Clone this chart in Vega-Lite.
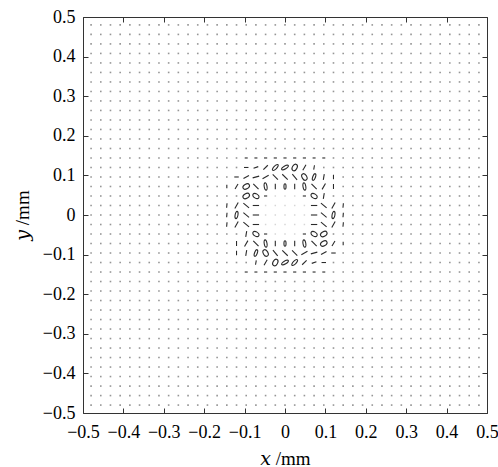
{
"$schema": "https://vega.github.io/schema/vega-lite/v6.json",
"width": 404, "height": 396,
"autosize": {"type": "none"},
"padding": {"left": 83, "top": 17, "right": 11, "bottom": 54},
"background": "white",
"config": {
 "view": {"stroke": "#333", "strokeWidth": 1},
 "axis": {"domain": false, "grid": false, "tickColor": "#333", "tickSize": -5, "tickWidth": 1,
  "labelFont": "Liberation Serif, DejaVu Serif, serif", "labelFontSize": 18, "labelColor": "#000",
  "titleFont": "Liberation Serif, DejaVu Serif, serif", "titleFontSize": 19, "titleFontWeight": "normal", "titleColor": "#000"}
},
"datasets": {"pts": [
{"x":-0.48,"y":0.48},{"x":-0.456,"y":0.48},{"x":-0.432,"y":0.48},{"x":-0.408,"y":0.48},{"x":-0.384,"y":0.48},{"x":-0.36,"y":0.48},{"x":-0.336,"y":0.48},{"x":-0.312,"y":0.48},{"x":-0.288,"y":0.48},{"x":-0.264,"y":0.48},{"x":-0.24,"y":0.48},{"x":-0.216,"y":0.48},{"x":-0.192,"y":0.48},{"x":-0.168,"y":0.48},{"x":-0.144,"y":0.48},{"x":-0.12,"y":0.48},{"x":-0.096,"y":0.48},{"x":-0.072,"y":0.48},{"x":-0.048,"y":0.48},{"x":-0.024,"y":0.48},{"x":0,"y":0.48},{"x":0.024,"y":0.48},{"x":0.048,"y":0.48},{"x":0.072,"y":0.48},{"x":0.096,"y":0.48},{"x":0.12,"y":0.48},{"x":0.144,"y":0.48},{"x":0.168,"y":0.48},{"x":0.192,"y":0.48},{"x":0.216,"y":0.48},{"x":0.24,"y":0.48},{"x":0.264,"y":0.48},{"x":0.288,"y":0.48},{"x":0.312,"y":0.48},{"x":0.336,"y":0.48},{"x":0.36,"y":0.48},{"x":0.384,"y":0.48},{"x":0.408,"y":0.48},{"x":0.432,"y":0.48},{"x":0.456,"y":0.48},{"x":0.48,"y":0.48},
{"x":-0.48,"y":0.456},{"x":-0.456,"y":0.456},{"x":-0.432,"y":0.456},{"x":-0.408,"y":0.456},{"x":-0.384,"y":0.456},{"x":-0.36,"y":0.456},{"x":-0.336,"y":0.456},{"x":-0.312,"y":0.456},{"x":-0.288,"y":0.456},{"x":-0.264,"y":0.456},{"x":-0.24,"y":0.456},{"x":-0.216,"y":0.456},{"x":-0.192,"y":0.456},{"x":-0.168,"y":0.456},{"x":-0.144,"y":0.456},{"x":-0.12,"y":0.456},{"x":-0.096,"y":0.456},{"x":-0.072,"y":0.456},{"x":-0.048,"y":0.456},{"x":-0.024,"y":0.456},{"x":0,"y":0.456},{"x":0.024,"y":0.456},{"x":0.048,"y":0.456},{"x":0.072,"y":0.456},{"x":0.096,"y":0.456},{"x":0.12,"y":0.456},{"x":0.144,"y":0.456},{"x":0.168,"y":0.456},{"x":0.192,"y":0.456},{"x":0.216,"y":0.456},{"x":0.24,"y":0.456},{"x":0.264,"y":0.456},{"x":0.288,"y":0.456},{"x":0.312,"y":0.456},{"x":0.336,"y":0.456},{"x":0.36,"y":0.456},{"x":0.384,"y":0.456},{"x":0.408,"y":0.456},{"x":0.432,"y":0.456},{"x":0.456,"y":0.456},{"x":0.48,"y":0.456},
{"x":-0.48,"y":0.432},{"x":-0.456,"y":0.432},{"x":-0.432,"y":0.432},{"x":-0.408,"y":0.432},{"x":-0.384,"y":0.432},{"x":-0.36,"y":0.432},{"x":-0.336,"y":0.432},{"x":-0.312,"y":0.432},{"x":-0.288,"y":0.432},{"x":-0.264,"y":0.432},{"x":-0.24,"y":0.432},{"x":-0.216,"y":0.432},{"x":-0.192,"y":0.432},{"x":-0.168,"y":0.432},{"x":-0.144,"y":0.432},{"x":-0.12,"y":0.432},{"x":-0.096,"y":0.432},{"x":-0.072,"y":0.432},{"x":-0.048,"y":0.432},{"x":-0.024,"y":0.432},{"x":0,"y":0.432},{"x":0.024,"y":0.432},{"x":0.048,"y":0.432},{"x":0.072,"y":0.432},{"x":0.096,"y":0.432},{"x":0.12,"y":0.432},{"x":0.144,"y":0.432},{"x":0.168,"y":0.432},{"x":0.192,"y":0.432},{"x":0.216,"y":0.432},{"x":0.24,"y":0.432},{"x":0.264,"y":0.432},{"x":0.288,"y":0.432},{"x":0.312,"y":0.432},{"x":0.336,"y":0.432},{"x":0.36,"y":0.432},{"x":0.384,"y":0.432},{"x":0.408,"y":0.432},{"x":0.432,"y":0.432},{"x":0.456,"y":0.432},{"x":0.48,"y":0.432},
{"x":-0.48,"y":0.408},{"x":-0.456,"y":0.408},{"x":-0.432,"y":0.408},{"x":-0.408,"y":0.408},{"x":-0.384,"y":0.408},{"x":-0.36,"y":0.408},{"x":-0.336,"y":0.408},{"x":-0.312,"y":0.408},{"x":-0.288,"y":0.408},{"x":-0.264,"y":0.408},{"x":-0.24,"y":0.408},{"x":-0.216,"y":0.408},{"x":-0.192,"y":0.408},{"x":-0.168,"y":0.408},{"x":-0.144,"y":0.408},{"x":-0.12,"y":0.408},{"x":-0.096,"y":0.408},{"x":-0.072,"y":0.408},{"x":-0.048,"y":0.408},{"x":-0.024,"y":0.408},{"x":0,"y":0.408},{"x":0.024,"y":0.408},{"x":0.048,"y":0.408},{"x":0.072,"y":0.408},{"x":0.096,"y":0.408},{"x":0.12,"y":0.408},{"x":0.144,"y":0.408},{"x":0.168,"y":0.408},{"x":0.192,"y":0.408},{"x":0.216,"y":0.408},{"x":0.24,"y":0.408},{"x":0.264,"y":0.408},{"x":0.288,"y":0.408},{"x":0.312,"y":0.408},{"x":0.336,"y":0.408},{"x":0.36,"y":0.408},{"x":0.384,"y":0.408},{"x":0.408,"y":0.408},{"x":0.432,"y":0.408},{"x":0.456,"y":0.408},{"x":0.48,"y":0.408},
{"x":-0.48,"y":0.384},{"x":-0.456,"y":0.384},{"x":-0.432,"y":0.384},{"x":-0.408,"y":0.384},{"x":-0.384,"y":0.384},{"x":-0.36,"y":0.384},{"x":-0.336,"y":0.384},{"x":-0.312,"y":0.384},{"x":-0.288,"y":0.384},{"x":-0.264,"y":0.384},{"x":-0.24,"y":0.384},{"x":-0.216,"y":0.384},{"x":-0.192,"y":0.384},{"x":-0.168,"y":0.384},{"x":-0.144,"y":0.384},{"x":-0.12,"y":0.384},{"x":-0.096,"y":0.384},{"x":-0.072,"y":0.384},{"x":-0.048,"y":0.384},{"x":-0.024,"y":0.384},{"x":0,"y":0.384},{"x":0.024,"y":0.384},{"x":0.048,"y":0.384},{"x":0.072,"y":0.384},{"x":0.096,"y":0.384},{"x":0.12,"y":0.384},{"x":0.144,"y":0.384},{"x":0.168,"y":0.384},{"x":0.192,"y":0.384},{"x":0.216,"y":0.384},{"x":0.24,"y":0.384},{"x":0.264,"y":0.384},{"x":0.288,"y":0.384},{"x":0.312,"y":0.384},{"x":0.336,"y":0.384},{"x":0.36,"y":0.384},{"x":0.384,"y":0.384},{"x":0.408,"y":0.384},{"x":0.432,"y":0.384},{"x":0.456,"y":0.384},{"x":0.48,"y":0.384},
{"x":-0.48,"y":0.36},{"x":-0.456,"y":0.36},{"x":-0.432,"y":0.36},{"x":-0.408,"y":0.36},{"x":-0.384,"y":0.36},{"x":-0.36,"y":0.36},{"x":-0.336,"y":0.36},{"x":-0.312,"y":0.36},{"x":-0.288,"y":0.36},{"x":-0.264,"y":0.36},{"x":-0.24,"y":0.36},{"x":-0.216,"y":0.36},{"x":-0.192,"y":0.36},{"x":-0.168,"y":0.36},{"x":-0.144,"y":0.36},{"x":-0.12,"y":0.36},{"x":-0.096,"y":0.36},{"x":-0.072,"y":0.36},{"x":-0.048,"y":0.36},{"x":-0.024,"y":0.36},{"x":0,"y":0.36},{"x":0.024,"y":0.36},{"x":0.048,"y":0.36},{"x":0.072,"y":0.36},{"x":0.096,"y":0.36},{"x":0.12,"y":0.36},{"x":0.144,"y":0.36},{"x":0.168,"y":0.36},{"x":0.192,"y":0.36},{"x":0.216,"y":0.36},{"x":0.24,"y":0.36},{"x":0.264,"y":0.36},{"x":0.288,"y":0.36},{"x":0.312,"y":0.36},{"x":0.336,"y":0.36},{"x":0.36,"y":0.36},{"x":0.384,"y":0.36},{"x":0.408,"y":0.36},{"x":0.432,"y":0.36},{"x":0.456,"y":0.36},{"x":0.48,"y":0.36},
{"x":-0.48,"y":0.336},{"x":-0.456,"y":0.336},{"x":-0.432,"y":0.336},{"x":-0.408,"y":0.336},{"x":-0.384,"y":0.336},{"x":-0.36,"y":0.336},{"x":-0.336,"y":0.336},{"x":-0.312,"y":0.336},{"x":-0.288,"y":0.336},{"x":-0.264,"y":0.336},{"x":-0.24,"y":0.336},{"x":-0.216,"y":0.336},{"x":-0.192,"y":0.336},{"x":-0.168,"y":0.336},{"x":-0.144,"y":0.336},{"x":-0.12,"y":0.336},{"x":-0.096,"y":0.336},{"x":-0.072,"y":0.336},{"x":-0.048,"y":0.336},{"x":-0.024,"y":0.336},{"x":0,"y":0.336},{"x":0.024,"y":0.336},{"x":0.048,"y":0.336},{"x":0.072,"y":0.336},{"x":0.096,"y":0.336},{"x":0.12,"y":0.336},{"x":0.144,"y":0.336},{"x":0.168,"y":0.336},{"x":0.192,"y":0.336},{"x":0.216,"y":0.336},{"x":0.24,"y":0.336},{"x":0.264,"y":0.336},{"x":0.288,"y":0.336},{"x":0.312,"y":0.336},{"x":0.336,"y":0.336},{"x":0.36,"y":0.336},{"x":0.384,"y":0.336},{"x":0.408,"y":0.336},{"x":0.432,"y":0.336},{"x":0.456,"y":0.336},{"x":0.48,"y":0.336},
{"x":-0.48,"y":0.312},{"x":-0.456,"y":0.312},{"x":-0.432,"y":0.312},{"x":-0.408,"y":0.312},{"x":-0.384,"y":0.312},{"x":-0.36,"y":0.312},{"x":-0.336,"y":0.312},{"x":-0.312,"y":0.312},{"x":-0.288,"y":0.312},{"x":-0.264,"y":0.312},{"x":-0.24,"y":0.312},{"x":-0.216,"y":0.312},{"x":-0.192,"y":0.312},{"x":-0.168,"y":0.312},{"x":-0.144,"y":0.312},{"x":-0.12,"y":0.312},{"x":-0.096,"y":0.312},{"x":-0.072,"y":0.312},{"x":-0.048,"y":0.312},{"x":-0.024,"y":0.312},{"x":0,"y":0.312},{"x":0.024,"y":0.312},{"x":0.048,"y":0.312},{"x":0.072,"y":0.312},{"x":0.096,"y":0.312},{"x":0.12,"y":0.312},{"x":0.144,"y":0.312},{"x":0.168,"y":0.312},{"x":0.192,"y":0.312},{"x":0.216,"y":0.312},{"x":0.24,"y":0.312},{"x":0.264,"y":0.312},{"x":0.288,"y":0.312},{"x":0.312,"y":0.312},{"x":0.336,"y":0.312},{"x":0.36,"y":0.312},{"x":0.384,"y":0.312},{"x":0.408,"y":0.312},{"x":0.432,"y":0.312},{"x":0.456,"y":0.312},{"x":0.48,"y":0.312},
{"x":-0.48,"y":0.288},{"x":-0.456,"y":0.288},{"x":-0.432,"y":0.288},{"x":-0.408,"y":0.288},{"x":-0.384,"y":0.288},{"x":-0.36,"y":0.288},{"x":-0.336,"y":0.288},{"x":-0.312,"y":0.288},{"x":-0.288,"y":0.288},{"x":-0.264,"y":0.288},{"x":-0.24,"y":0.288},{"x":-0.216,"y":0.288},{"x":-0.192,"y":0.288},{"x":-0.168,"y":0.288},{"x":-0.144,"y":0.288},{"x":-0.12,"y":0.288},{"x":-0.096,"y":0.288},{"x":-0.072,"y":0.288},{"x":-0.048,"y":0.288},{"x":-0.024,"y":0.288},{"x":0,"y":0.288},{"x":0.024,"y":0.288},{"x":0.048,"y":0.288},{"x":0.072,"y":0.288},{"x":0.096,"y":0.288},{"x":0.12,"y":0.288},{"x":0.144,"y":0.288},{"x":0.168,"y":0.288},{"x":0.192,"y":0.288},{"x":0.216,"y":0.288},{"x":0.24,"y":0.288},{"x":0.264,"y":0.288},{"x":0.288,"y":0.288},{"x":0.312,"y":0.288},{"x":0.336,"y":0.288},{"x":0.36,"y":0.288},{"x":0.384,"y":0.288},{"x":0.408,"y":0.288},{"x":0.432,"y":0.288},{"x":0.456,"y":0.288},{"x":0.48,"y":0.288},
{"x":-0.48,"y":0.264},{"x":-0.456,"y":0.264},{"x":-0.432,"y":0.264},{"x":-0.408,"y":0.264},{"x":-0.384,"y":0.264},{"x":-0.36,"y":0.264},{"x":-0.336,"y":0.264},{"x":-0.312,"y":0.264},{"x":-0.288,"y":0.264},{"x":-0.264,"y":0.264},{"x":-0.24,"y":0.264},{"x":-0.216,"y":0.264},{"x":-0.192,"y":0.264},{"x":-0.168,"y":0.264},{"x":-0.144,"y":0.264},{"x":-0.12,"y":0.264},{"x":-0.096,"y":0.264},{"x":-0.072,"y":0.264},{"x":-0.048,"y":0.264},{"x":-0.024,"y":0.264},{"x":0,"y":0.264},{"x":0.024,"y":0.264},{"x":0.048,"y":0.264},{"x":0.072,"y":0.264},{"x":0.096,"y":0.264},{"x":0.12,"y":0.264},{"x":0.144,"y":0.264},{"x":0.168,"y":0.264},{"x":0.192,"y":0.264},{"x":0.216,"y":0.264},{"x":0.24,"y":0.264},{"x":0.264,"y":0.264},{"x":0.288,"y":0.264},{"x":0.312,"y":0.264},{"x":0.336,"y":0.264},{"x":0.36,"y":0.264},{"x":0.384,"y":0.264},{"x":0.408,"y":0.264},{"x":0.432,"y":0.264},{"x":0.456,"y":0.264},{"x":0.48,"y":0.264},
{"x":-0.48,"y":0.24},{"x":-0.456,"y":0.24},{"x":-0.432,"y":0.24},{"x":-0.408,"y":0.24},{"x":-0.384,"y":0.24},{"x":-0.36,"y":0.24},{"x":-0.336,"y":0.24},{"x":-0.312,"y":0.24},{"x":-0.288,"y":0.24},{"x":-0.264,"y":0.24},{"x":-0.24,"y":0.24},{"x":-0.216,"y":0.24},{"x":-0.192,"y":0.24},{"x":-0.168,"y":0.24},{"x":-0.144,"y":0.24},{"x":-0.12,"y":0.24},{"x":-0.096,"y":0.24},{"x":-0.072,"y":0.24},{"x":-0.048,"y":0.24},{"x":-0.024,"y":0.24},{"x":0,"y":0.24},{"x":0.024,"y":0.24},{"x":0.048,"y":0.24},{"x":0.072,"y":0.24},{"x":0.096,"y":0.24},{"x":0.12,"y":0.24},{"x":0.144,"y":0.24},{"x":0.168,"y":0.24},{"x":0.192,"y":0.24},{"x":0.216,"y":0.24},{"x":0.24,"y":0.24},{"x":0.264,"y":0.24},{"x":0.288,"y":0.24},{"x":0.312,"y":0.24},{"x":0.336,"y":0.24},{"x":0.36,"y":0.24},{"x":0.384,"y":0.24},{"x":0.408,"y":0.24},{"x":0.432,"y":0.24},{"x":0.456,"y":0.24},{"x":0.48,"y":0.24},
{"x":-0.48,"y":0.216},{"x":-0.456,"y":0.216},{"x":-0.432,"y":0.216},{"x":-0.408,"y":0.216},{"x":-0.384,"y":0.216},{"x":-0.36,"y":0.216},{"x":-0.336,"y":0.216},{"x":-0.312,"y":0.216},{"x":-0.288,"y":0.216},{"x":-0.264,"y":0.216},{"x":-0.24,"y":0.216},{"x":-0.216,"y":0.216},{"x":-0.192,"y":0.216},{"x":-0.168,"y":0.216},{"x":-0.144,"y":0.216},{"x":-0.12,"y":0.216},{"x":-0.096,"y":0.216},{"x":-0.072,"y":0.216},{"x":-0.048,"y":0.216},{"x":-0.024,"y":0.216},{"x":0,"y":0.216},{"x":0.024,"y":0.216},{"x":0.048,"y":0.216},{"x":0.072,"y":0.216},{"x":0.096,"y":0.216},{"x":0.12,"y":0.216},{"x":0.144,"y":0.216},{"x":0.168,"y":0.216},{"x":0.192,"y":0.216},{"x":0.216,"y":0.216},{"x":0.24,"y":0.216},{"x":0.264,"y":0.216},{"x":0.288,"y":0.216},{"x":0.312,"y":0.216},{"x":0.336,"y":0.216},{"x":0.36,"y":0.216},{"x":0.384,"y":0.216},{"x":0.408,"y":0.216},{"x":0.432,"y":0.216},{"x":0.456,"y":0.216},{"x":0.48,"y":0.216},
{"x":-0.48,"y":0.192},{"x":-0.456,"y":0.192},{"x":-0.432,"y":0.192},{"x":-0.408,"y":0.192},{"x":-0.384,"y":0.192},{"x":-0.36,"y":0.192},{"x":-0.336,"y":0.192},{"x":-0.312,"y":0.192},{"x":-0.288,"y":0.192},{"x":-0.264,"y":0.192},{"x":-0.24,"y":0.192},{"x":-0.216,"y":0.192},{"x":-0.192,"y":0.192},{"x":-0.168,"y":0.192},{"x":-0.144,"y":0.192},{"x":-0.12,"y":0.192},{"x":-0.096,"y":0.192},{"x":-0.072,"y":0.192},{"x":-0.048,"y":0.192},{"x":-0.024,"y":0.192},{"x":0,"y":0.192},{"x":0.024,"y":0.192},{"x":0.048,"y":0.192},{"x":0.072,"y":0.192},{"x":0.096,"y":0.192},{"x":0.12,"y":0.192},{"x":0.144,"y":0.192},{"x":0.168,"y":0.192},{"x":0.192,"y":0.192},{"x":0.216,"y":0.192},{"x":0.24,"y":0.192},{"x":0.264,"y":0.192},{"x":0.288,"y":0.192},{"x":0.312,"y":0.192},{"x":0.336,"y":0.192},{"x":0.36,"y":0.192},{"x":0.384,"y":0.192},{"x":0.408,"y":0.192},{"x":0.432,"y":0.192},{"x":0.456,"y":0.192},{"x":0.48,"y":0.192},
{"x":-0.48,"y":0.168},{"x":-0.456,"y":0.168},{"x":-0.432,"y":0.168},{"x":-0.408,"y":0.168},{"x":-0.384,"y":0.168},{"x":-0.36,"y":0.168},{"x":-0.336,"y":0.168},{"x":-0.312,"y":0.168},{"x":-0.288,"y":0.168},{"x":-0.264,"y":0.168},{"x":-0.24,"y":0.168},{"x":-0.216,"y":0.168},{"x":-0.192,"y":0.168},{"x":-0.168,"y":0.168},{"x":-0.144,"y":0.168},{"x":-0.12,"y":0.168},{"x":-0.096,"y":0.168},{"x":-0.072,"y":0.168},{"x":-0.048,"y":0.168},{"x":-0.024,"y":0.168},{"x":0,"y":0.168},{"x":0.024,"y":0.168},{"x":0.048,"y":0.168},{"x":0.072,"y":0.168},{"x":0.096,"y":0.168},{"x":0.12,"y":0.168},{"x":0.144,"y":0.168},{"x":0.168,"y":0.168},{"x":0.192,"y":0.168},{"x":0.216,"y":0.168},{"x":0.24,"y":0.168},{"x":0.264,"y":0.168},{"x":0.288,"y":0.168},{"x":0.312,"y":0.168},{"x":0.336,"y":0.168},{"x":0.36,"y":0.168},{"x":0.384,"y":0.168},{"x":0.408,"y":0.168},{"x":0.432,"y":0.168},{"x":0.456,"y":0.168},{"x":0.48,"y":0.168},
{"x":-0.48,"y":0.144},{"x":-0.456,"y":0.144},{"x":-0.432,"y":0.144},{"x":-0.408,"y":0.144},{"x":-0.384,"y":0.144},{"x":-0.36,"y":0.144},{"x":-0.336,"y":0.144},{"x":-0.312,"y":0.144},{"x":-0.288,"y":0.144},{"x":-0.264,"y":0.144},{"x":-0.24,"y":0.144},{"x":-0.216,"y":0.144},{"x":-0.192,"y":0.144},{"x":-0.168,"y":0.144},{"x":-0.144,"y":0.144},{"x":-0.12,"y":0.144},{"x":-0.096,"y":0.144,"k":"l","a":0,"s":9},{"x":-0.072,"y":0.144,"k":"l","a":0,"s":9},{"x":-0.048,"y":0.144,"k":"l","a":0,"s":10},{"x":-0.024,"y":0.144,"k":"l","a":0,"s":10},{"x":0,"y":0.144,"k":"l","a":0,"s":10},{"x":0.024,"y":0.144,"k":"l","a":0,"s":10},{"x":0.048,"y":0.144,"k":"l","a":0,"s":10},{"x":0.072,"y":0.144,"k":"l","a":0,"s":9},{"x":0.096,"y":0.144,"k":"l","a":0,"s":9},{"x":0.12,"y":0.144},{"x":0.144,"y":0.144},{"x":0.168,"y":0.144},{"x":0.192,"y":0.144},{"x":0.216,"y":0.144},{"x":0.24,"y":0.144},{"x":0.264,"y":0.144},{"x":0.288,"y":0.144},{"x":0.312,"y":0.144},{"x":0.336,"y":0.144},{"x":0.36,"y":0.144},{"x":0.384,"y":0.144},{"x":0.408,"y":0.144},{"x":0.432,"y":0.144},{"x":0.456,"y":0.144},{"x":0.48,"y":0.144},
{"x":-0.48,"y":0.12},{"x":-0.456,"y":0.12},{"x":-0.432,"y":0.12},{"x":-0.408,"y":0.12},{"x":-0.384,"y":0.12},{"x":-0.36,"y":0.12},{"x":-0.336,"y":0.12},{"x":-0.312,"y":0.12},{"x":-0.288,"y":0.12},{"x":-0.264,"y":0.12},{"x":-0.24,"y":0.12},{"x":-0.216,"y":0.12},{"x":-0.192,"y":0.12},{"x":-0.168,"y":0.12},{"x":-0.144,"y":0.12},{"x":-0.12,"y":0.12},{"x":-0.096,"y":0.12,"k":"l","a":0,"s":20},{"x":-0.072,"y":0.12,"k":"l","a":160,"s":25},{"x":-0.048,"y":0.12,"k":"l","a":135,"s":40},{"x":-0.024,"y":0.12,"k":"e","a":135,"s":60},{"x":0,"y":0.12,"k":"e","a":150,"s":60},{"x":0.024,"y":0.12,"k":"o","a":120,"s":50},{"x":0.048,"y":0.12,"k":"l","a":120,"s":40},{"x":0.072,"y":0.12,"k":"l","a":100,"s":20},{"x":0.096,"y":0.12},{"x":0.12,"y":0.12},{"x":0.144,"y":0.12},{"x":0.168,"y":0.12},{"x":0.192,"y":0.12},{"x":0.216,"y":0.12},{"x":0.24,"y":0.12},{"x":0.264,"y":0.12},{"x":0.288,"y":0.12},{"x":0.312,"y":0.12},{"x":0.336,"y":0.12},{"x":0.36,"y":0.12},{"x":0.384,"y":0.12},{"x":0.408,"y":0.12},{"x":0.432,"y":0.12},{"x":0.456,"y":0.12},{"x":0.48,"y":0.12},
{"x":-0.48,"y":0.096},{"x":-0.456,"y":0.096},{"x":-0.432,"y":0.096},{"x":-0.408,"y":0.096},{"x":-0.384,"y":0.096},{"x":-0.36,"y":0.096},{"x":-0.336,"y":0.096},{"x":-0.312,"y":0.096},{"x":-0.288,"y":0.096},{"x":-0.264,"y":0.096},{"x":-0.24,"y":0.096},{"x":-0.216,"y":0.096},{"x":-0.192,"y":0.096},{"x":-0.168,"y":0.096},{"x":-0.144,"y":0.096},{"x":-0.12,"y":0.096,"k":"l","a":0,"s":20},{"x":-0.096,"y":0.096,"k":"l","a":150,"s":40},{"x":-0.072,"y":0.096,"k":"l","a":165,"s":45},{"x":-0.048,"y":0.096,"k":"l","a":150,"s":50},{"x":-0.024,"y":0.096,"k":"l","a":45,"s":55},{"x":0,"y":0.096,"k":"l","a":45,"s":60},{"x":0.024,"y":0.096,"k":"l","a":50,"s":55},{"x":0.048,"y":0.096,"k":"o","a":60,"s":50},{"x":0.072,"y":0.096,"k":"e","a":110,"s":50},{"x":0.096,"y":0.096,"k":"l","a":100,"s":35},{"x":0.12,"y":0.096,"k":"l","a":90,"s":20},{"x":0.144,"y":0.096},{"x":0.168,"y":0.096},{"x":0.192,"y":0.096},{"x":0.216,"y":0.096},{"x":0.24,"y":0.096},{"x":0.264,"y":0.096},{"x":0.288,"y":0.096},{"x":0.312,"y":0.096},{"x":0.336,"y":0.096},{"x":0.36,"y":0.096},{"x":0.384,"y":0.096},{"x":0.408,"y":0.096},{"x":0.432,"y":0.096},{"x":0.456,"y":0.096},{"x":0.48,"y":0.096},
{"x":-0.48,"y":0.072},{"x":-0.456,"y":0.072},{"x":-0.432,"y":0.072},{"x":-0.408,"y":0.072},{"x":-0.384,"y":0.072},{"x":-0.36,"y":0.072},{"x":-0.336,"y":0.072},{"x":-0.312,"y":0.072},{"x":-0.288,"y":0.072},{"x":-0.264,"y":0.072},{"x":-0.24,"y":0.072},{"x":-0.216,"y":0.072},{"x":-0.192,"y":0.072},{"x":-0.168,"y":0.072},{"x":-0.144,"y":0.072,"k":"l","a":90,"s":12},{"x":-0.12,"y":0.072,"k":"l","a":120,"s":35},{"x":-0.096,"y":0.072,"k":"o","a":150,"s":50},{"x":-0.072,"y":0.072,"k":"l","a":45,"s":55},{"x":-0.048,"y":0.072,"k":"e","a":80,"s":55},{"x":-0.024,"y":0.072,"k":"l","a":90,"s":30},{"x":0,"y":0.072,"k":"e","a":90,"s":30},{"x":0.024,"y":0.072,"k":"l","a":90,"s":30},{"x":0.048,"y":0.072,"k":"e","a":80,"s":55},{"x":0.072,"y":0.072,"k":"l","a":45,"s":55},{"x":0.096,"y":0.072,"k":"l","a":120,"s":45},{"x":0.12,"y":0.072,"k":"l","a":90,"s":25},{"x":0.144,"y":0.072},{"x":0.168,"y":0.072},{"x":0.192,"y":0.072},{"x":0.216,"y":0.072},{"x":0.24,"y":0.072},{"x":0.264,"y":0.072},{"x":0.288,"y":0.072},{"x":0.312,"y":0.072},{"x":0.336,"y":0.072},{"x":0.36,"y":0.072},{"x":0.384,"y":0.072},{"x":0.408,"y":0.072},{"x":0.432,"y":0.072},{"x":0.456,"y":0.072},{"x":0.48,"y":0.072},
{"x":-0.48,"y":0.048},{"x":-0.456,"y":0.048},{"x":-0.432,"y":0.048},{"x":-0.408,"y":0.048},{"x":-0.384,"y":0.048},{"x":-0.36,"y":0.048},{"x":-0.336,"y":0.048},{"x":-0.312,"y":0.048},{"x":-0.288,"y":0.048},{"x":-0.264,"y":0.048},{"x":-0.24,"y":0.048},{"x":-0.216,"y":0.048},{"x":-0.192,"y":0.048},{"x":-0.168,"y":0.048},{"x":-0.144,"y":0.048},{"x":-0.12,"y":0.048},{"x":-0.096,"y":0.048,"k":"o","a":150,"s":50},{"x":-0.072,"y":0.048,"k":"o","a":30,"s":45},{"x":-0.048,"y":0.048,"k":"l","a":0,"s":10},{"x":-0.024,"y":0.048,"k":"f"},{"x":0,"y":0.048,"k":"f"},{"x":0.024,"y":0.048,"k":"f"},{"x":0.048,"y":0.048,"k":"l","a":0,"s":10},{"x":0.072,"y":0.048,"k":"o","a":30,"s":45},{"x":0.096,"y":0.048,"k":"l","a":100,"s":35},{"x":0.12,"y":0.048},{"x":0.144,"y":0.048},{"x":0.168,"y":0.048},{"x":0.192,"y":0.048},{"x":0.216,"y":0.048},{"x":0.24,"y":0.048},{"x":0.264,"y":0.048},{"x":0.288,"y":0.048},{"x":0.312,"y":0.048},{"x":0.336,"y":0.048},{"x":0.36,"y":0.048},{"x":0.384,"y":0.048},{"x":0.408,"y":0.048},{"x":0.432,"y":0.048},{"x":0.456,"y":0.048},{"x":0.48,"y":0.048},
{"x":-0.48,"y":0.024},{"x":-0.456,"y":0.024},{"x":-0.432,"y":0.024},{"x":-0.408,"y":0.024},{"x":-0.384,"y":0.024},{"x":-0.36,"y":0.024},{"x":-0.336,"y":0.024},{"x":-0.312,"y":0.024},{"x":-0.288,"y":0.024},{"x":-0.264,"y":0.024},{"x":-0.24,"y":0.024},{"x":-0.216,"y":0.024},{"x":-0.192,"y":0.024},{"x":-0.168,"y":0.024},{"x":-0.144,"y":0.024,"k":"l","a":95,"s":20},{"x":-0.12,"y":0.024,"k":"l","a":120,"s":45},{"x":-0.096,"y":0.024,"k":"l","a":40,"s":55},{"x":-0.072,"y":0.024,"k":"l","a":0,"s":40},{"x":-0.048,"y":0.024,"k":"f"},{"x":-0.024,"y":0.024,"k":"f"},{"x":0,"y":0.024,"k":"f"},{"x":0.024,"y":0.024,"k":"f"},{"x":0.048,"y":0.024,"k":"f"},{"x":0.072,"y":0.024,"k":"l","a":0,"s":40},{"x":0.096,"y":0.024,"k":"l","a":40,"s":55},{"x":0.12,"y":0.024,"k":"l","a":120,"s":45},{"x":0.144,"y":0.024,"k":"l","a":95,"s":20},{"x":0.168,"y":0.024},{"x":0.192,"y":0.024},{"x":0.216,"y":0.024},{"x":0.24,"y":0.024},{"x":0.264,"y":0.024},{"x":0.288,"y":0.024},{"x":0.312,"y":0.024},{"x":0.336,"y":0.024},{"x":0.36,"y":0.024},{"x":0.384,"y":0.024},{"x":0.408,"y":0.024},{"x":0.432,"y":0.024},{"x":0.456,"y":0.024},{"x":0.48,"y":0.024},
{"x":-0.48,"y":0},{"x":-0.456,"y":0},{"x":-0.432,"y":0},{"x":-0.408,"y":0},{"x":-0.384,"y":0},{"x":-0.36,"y":0},{"x":-0.336,"y":0},{"x":-0.312,"y":0},{"x":-0.288,"y":0},{"x":-0.264,"y":0},{"x":-0.24,"y":0},{"x":-0.216,"y":0},{"x":-0.192,"y":0},{"x":-0.168,"y":0},{"x":-0.144,"y":0,"k":"l","a":95,"s":20},{"x":-0.12,"y":0,"k":"e","a":100,"s":55},{"x":-0.096,"y":0,"k":"l","a":40,"s":55},{"x":-0.072,"y":0,"k":"l","a":0,"s":40},{"x":-0.048,"y":0,"k":"f"},{"x":-0.024,"y":0,"k":"f"},{"x":0,"y":0,"k":"f"},{"x":0.024,"y":0,"k":"f"},{"x":0.048,"y":0,"k":"f"},{"x":0.072,"y":0,"k":"l","a":0,"s":40},{"x":0.096,"y":0,"k":"l","a":40,"s":55},{"x":0.12,"y":0,"k":"e","a":100,"s":55},{"x":0.144,"y":0,"k":"l","a":95,"s":20},{"x":0.168,"y":0},{"x":0.192,"y":0},{"x":0.216,"y":0},{"x":0.24,"y":0},{"x":0.264,"y":0},{"x":0.288,"y":0},{"x":0.312,"y":0},{"x":0.336,"y":0},{"x":0.36,"y":0},{"x":0.384,"y":0},{"x":0.408,"y":0},{"x":0.432,"y":0},{"x":0.456,"y":0},{"x":0.48,"y":0},
{"x":-0.48,"y":-0.024},{"x":-0.456,"y":-0.024},{"x":-0.432,"y":-0.024},{"x":-0.408,"y":-0.024},{"x":-0.384,"y":-0.024},{"x":-0.36,"y":-0.024},{"x":-0.336,"y":-0.024},{"x":-0.312,"y":-0.024},{"x":-0.288,"y":-0.024},{"x":-0.264,"y":-0.024},{"x":-0.24,"y":-0.024},{"x":-0.216,"y":-0.024},{"x":-0.192,"y":-0.024},{"x":-0.168,"y":-0.024},{"x":-0.144,"y":-0.024,"k":"l","a":95,"s":20},{"x":-0.12,"y":-0.024,"k":"l","a":120,"s":45},{"x":-0.096,"y":-0.024,"k":"l","a":40,"s":55},{"x":-0.072,"y":-0.024,"k":"l","a":0,"s":40},{"x":-0.048,"y":-0.024,"k":"f"},{"x":-0.024,"y":-0.024,"k":"f"},{"x":0,"y":-0.024,"k":"f"},{"x":0.024,"y":-0.024,"k":"f"},{"x":0.048,"y":-0.024,"k":"f"},{"x":0.072,"y":-0.024,"k":"l","a":0,"s":40},{"x":0.096,"y":-0.024,"k":"l","a":40,"s":55},{"x":0.12,"y":-0.024,"k":"l","a":120,"s":45},{"x":0.144,"y":-0.024,"k":"l","a":95,"s":20},{"x":0.168,"y":-0.024},{"x":0.192,"y":-0.024},{"x":0.216,"y":-0.024},{"x":0.24,"y":-0.024},{"x":0.264,"y":-0.024},{"x":0.288,"y":-0.024},{"x":0.312,"y":-0.024},{"x":0.336,"y":-0.024},{"x":0.36,"y":-0.024},{"x":0.384,"y":-0.024},{"x":0.408,"y":-0.024},{"x":0.432,"y":-0.024},{"x":0.456,"y":-0.024},{"x":0.48,"y":-0.024},
{"x":-0.48,"y":-0.048},{"x":-0.456,"y":-0.048},{"x":-0.432,"y":-0.048},{"x":-0.408,"y":-0.048},{"x":-0.384,"y":-0.048},{"x":-0.36,"y":-0.048},{"x":-0.336,"y":-0.048},{"x":-0.312,"y":-0.048},{"x":-0.288,"y":-0.048},{"x":-0.264,"y":-0.048},{"x":-0.24,"y":-0.048},{"x":-0.216,"y":-0.048},{"x":-0.192,"y":-0.048},{"x":-0.168,"y":-0.048},{"x":-0.144,"y":-0.048},{"x":-0.12,"y":-0.048},{"x":-0.096,"y":-0.048,"k":"l","a":100,"s":35},{"x":-0.072,"y":-0.048,"k":"o","a":30,"s":45},{"x":-0.048,"y":-0.048,"k":"l","a":0,"s":10},{"x":-0.024,"y":-0.048,"k":"f"},{"x":0,"y":-0.048,"k":"f"},{"x":0.024,"y":-0.048,"k":"f"},{"x":0.048,"y":-0.048,"k":"l","a":0,"s":10},{"x":0.072,"y":-0.048,"k":"o","a":30,"s":45},{"x":0.096,"y":-0.048,"k":"o","a":150,"s":50},{"x":0.12,"y":-0.048},{"x":0.144,"y":-0.048},{"x":0.168,"y":-0.048},{"x":0.192,"y":-0.048},{"x":0.216,"y":-0.048},{"x":0.24,"y":-0.048},{"x":0.264,"y":-0.048},{"x":0.288,"y":-0.048},{"x":0.312,"y":-0.048},{"x":0.336,"y":-0.048},{"x":0.36,"y":-0.048},{"x":0.384,"y":-0.048},{"x":0.408,"y":-0.048},{"x":0.432,"y":-0.048},{"x":0.456,"y":-0.048},{"x":0.48,"y":-0.048},
{"x":-0.48,"y":-0.072},{"x":-0.456,"y":-0.072},{"x":-0.432,"y":-0.072},{"x":-0.408,"y":-0.072},{"x":-0.384,"y":-0.072},{"x":-0.36,"y":-0.072},{"x":-0.336,"y":-0.072},{"x":-0.312,"y":-0.072},{"x":-0.288,"y":-0.072},{"x":-0.264,"y":-0.072},{"x":-0.24,"y":-0.072},{"x":-0.216,"y":-0.072},{"x":-0.192,"y":-0.072},{"x":-0.168,"y":-0.072},{"x":-0.144,"y":-0.072},{"x":-0.12,"y":-0.072,"k":"l","a":90,"s":25},{"x":-0.096,"y":-0.072,"k":"l","a":120,"s":45},{"x":-0.072,"y":-0.072,"k":"l","a":45,"s":55},{"x":-0.048,"y":-0.072,"k":"e","a":80,"s":55},{"x":-0.024,"y":-0.072,"k":"l","a":90,"s":30},{"x":0,"y":-0.072,"k":"e","a":90,"s":30},{"x":0.024,"y":-0.072,"k":"l","a":90,"s":30},{"x":0.048,"y":-0.072,"k":"e","a":80,"s":55},{"x":0.072,"y":-0.072,"k":"l","a":45,"s":55},{"x":0.096,"y":-0.072,"k":"o","a":150,"s":50},{"x":0.12,"y":-0.072,"k":"l","a":120,"s":35},{"x":0.144,"y":-0.072,"k":"l","a":90,"s":12},{"x":0.168,"y":-0.072},{"x":0.192,"y":-0.072},{"x":0.216,"y":-0.072},{"x":0.24,"y":-0.072},{"x":0.264,"y":-0.072},{"x":0.288,"y":-0.072},{"x":0.312,"y":-0.072},{"x":0.336,"y":-0.072},{"x":0.36,"y":-0.072},{"x":0.384,"y":-0.072},{"x":0.408,"y":-0.072},{"x":0.432,"y":-0.072},{"x":0.456,"y":-0.072},{"x":0.48,"y":-0.072},
{"x":-0.48,"y":-0.096},{"x":-0.456,"y":-0.096},{"x":-0.432,"y":-0.096},{"x":-0.408,"y":-0.096},{"x":-0.384,"y":-0.096},{"x":-0.36,"y":-0.096},{"x":-0.336,"y":-0.096},{"x":-0.312,"y":-0.096},{"x":-0.288,"y":-0.096},{"x":-0.264,"y":-0.096},{"x":-0.24,"y":-0.096},{"x":-0.216,"y":-0.096},{"x":-0.192,"y":-0.096},{"x":-0.168,"y":-0.096},{"x":-0.144,"y":-0.096},{"x":-0.12,"y":-0.096,"k":"l","a":90,"s":20},{"x":-0.096,"y":-0.096,"k":"l","a":100,"s":35},{"x":-0.072,"y":-0.096,"k":"e","a":110,"s":50},{"x":-0.048,"y":-0.096,"k":"o","a":60,"s":50},{"x":-0.024,"y":-0.096,"k":"l","a":50,"s":55},{"x":0,"y":-0.096,"k":"l","a":45,"s":60},{"x":0.024,"y":-0.096,"k":"l","a":45,"s":55},{"x":0.048,"y":-0.096,"k":"l","a":150,"s":50},{"x":0.072,"y":-0.096,"k":"l","a":165,"s":45},{"x":0.096,"y":-0.096,"k":"l","a":150,"s":40},{"x":0.12,"y":-0.096,"k":"l","a":0,"s":20},{"x":0.144,"y":-0.096},{"x":0.168,"y":-0.096},{"x":0.192,"y":-0.096},{"x":0.216,"y":-0.096},{"x":0.24,"y":-0.096},{"x":0.264,"y":-0.096},{"x":0.288,"y":-0.096},{"x":0.312,"y":-0.096},{"x":0.336,"y":-0.096},{"x":0.36,"y":-0.096},{"x":0.384,"y":-0.096},{"x":0.408,"y":-0.096},{"x":0.432,"y":-0.096},{"x":0.456,"y":-0.096},{"x":0.48,"y":-0.096},
{"x":-0.48,"y":-0.12},{"x":-0.456,"y":-0.12},{"x":-0.432,"y":-0.12},{"x":-0.408,"y":-0.12},{"x":-0.384,"y":-0.12},{"x":-0.36,"y":-0.12},{"x":-0.336,"y":-0.12},{"x":-0.312,"y":-0.12},{"x":-0.288,"y":-0.12},{"x":-0.264,"y":-0.12},{"x":-0.24,"y":-0.12},{"x":-0.216,"y":-0.12},{"x":-0.192,"y":-0.12},{"x":-0.168,"y":-0.12},{"x":-0.144,"y":-0.12},{"x":-0.12,"y":-0.12},{"x":-0.096,"y":-0.12},{"x":-0.072,"y":-0.12,"k":"l","a":100,"s":20},{"x":-0.048,"y":-0.12,"k":"l","a":120,"s":40},{"x":-0.024,"y":-0.12,"k":"o","a":120,"s":50},{"x":0,"y":-0.12,"k":"e","a":150,"s":60},{"x":0.024,"y":-0.12,"k":"e","a":135,"s":60},{"x":0.048,"y":-0.12,"k":"l","a":135,"s":40},{"x":0.072,"y":-0.12,"k":"l","a":160,"s":25},{"x":0.096,"y":-0.12,"k":"l","a":0,"s":20},{"x":0.12,"y":-0.12},{"x":0.144,"y":-0.12},{"x":0.168,"y":-0.12},{"x":0.192,"y":-0.12},{"x":0.216,"y":-0.12},{"x":0.24,"y":-0.12},{"x":0.264,"y":-0.12},{"x":0.288,"y":-0.12},{"x":0.312,"y":-0.12},{"x":0.336,"y":-0.12},{"x":0.36,"y":-0.12},{"x":0.384,"y":-0.12},{"x":0.408,"y":-0.12},{"x":0.432,"y":-0.12},{"x":0.456,"y":-0.12},{"x":0.48,"y":-0.12},
{"x":-0.48,"y":-0.144},{"x":-0.456,"y":-0.144},{"x":-0.432,"y":-0.144},{"x":-0.408,"y":-0.144},{"x":-0.384,"y":-0.144},{"x":-0.36,"y":-0.144},{"x":-0.336,"y":-0.144},{"x":-0.312,"y":-0.144},{"x":-0.288,"y":-0.144},{"x":-0.264,"y":-0.144},{"x":-0.24,"y":-0.144},{"x":-0.216,"y":-0.144},{"x":-0.192,"y":-0.144},{"x":-0.168,"y":-0.144},{"x":-0.144,"y":-0.144},{"x":-0.12,"y":-0.144},{"x":-0.096,"y":-0.144,"k":"l","a":0,"s":9},{"x":-0.072,"y":-0.144,"k":"l","a":0,"s":9},{"x":-0.048,"y":-0.144,"k":"l","a":0,"s":10},{"x":-0.024,"y":-0.144,"k":"l","a":0,"s":10},{"x":0,"y":-0.144,"k":"l","a":0,"s":10},{"x":0.024,"y":-0.144,"k":"l","a":0,"s":10},{"x":0.048,"y":-0.144,"k":"l","a":0,"s":10},{"x":0.072,"y":-0.144,"k":"l","a":0,"s":9},{"x":0.096,"y":-0.144,"k":"l","a":0,"s":9},{"x":0.12,"y":-0.144},{"x":0.144,"y":-0.144},{"x":0.168,"y":-0.144},{"x":0.192,"y":-0.144},{"x":0.216,"y":-0.144},{"x":0.24,"y":-0.144},{"x":0.264,"y":-0.144},{"x":0.288,"y":-0.144},{"x":0.312,"y":-0.144},{"x":0.336,"y":-0.144},{"x":0.36,"y":-0.144},{"x":0.384,"y":-0.144},{"x":0.408,"y":-0.144},{"x":0.432,"y":-0.144},{"x":0.456,"y":-0.144},{"x":0.48,"y":-0.144},
{"x":-0.48,"y":-0.168},{"x":-0.456,"y":-0.168},{"x":-0.432,"y":-0.168},{"x":-0.408,"y":-0.168},{"x":-0.384,"y":-0.168},{"x":-0.36,"y":-0.168},{"x":-0.336,"y":-0.168},{"x":-0.312,"y":-0.168},{"x":-0.288,"y":-0.168},{"x":-0.264,"y":-0.168},{"x":-0.24,"y":-0.168},{"x":-0.216,"y":-0.168},{"x":-0.192,"y":-0.168},{"x":-0.168,"y":-0.168},{"x":-0.144,"y":-0.168},{"x":-0.12,"y":-0.168},{"x":-0.096,"y":-0.168},{"x":-0.072,"y":-0.168},{"x":-0.048,"y":-0.168},{"x":-0.024,"y":-0.168},{"x":0,"y":-0.168},{"x":0.024,"y":-0.168},{"x":0.048,"y":-0.168},{"x":0.072,"y":-0.168},{"x":0.096,"y":-0.168},{"x":0.12,"y":-0.168},{"x":0.144,"y":-0.168},{"x":0.168,"y":-0.168},{"x":0.192,"y":-0.168},{"x":0.216,"y":-0.168},{"x":0.24,"y":-0.168},{"x":0.264,"y":-0.168},{"x":0.288,"y":-0.168},{"x":0.312,"y":-0.168},{"x":0.336,"y":-0.168},{"x":0.36,"y":-0.168},{"x":0.384,"y":-0.168},{"x":0.408,"y":-0.168},{"x":0.432,"y":-0.168},{"x":0.456,"y":-0.168},{"x":0.48,"y":-0.168},
{"x":-0.48,"y":-0.192},{"x":-0.456,"y":-0.192},{"x":-0.432,"y":-0.192},{"x":-0.408,"y":-0.192},{"x":-0.384,"y":-0.192},{"x":-0.36,"y":-0.192},{"x":-0.336,"y":-0.192},{"x":-0.312,"y":-0.192},{"x":-0.288,"y":-0.192},{"x":-0.264,"y":-0.192},{"x":-0.24,"y":-0.192},{"x":-0.216,"y":-0.192},{"x":-0.192,"y":-0.192},{"x":-0.168,"y":-0.192},{"x":-0.144,"y":-0.192},{"x":-0.12,"y":-0.192},{"x":-0.096,"y":-0.192},{"x":-0.072,"y":-0.192},{"x":-0.048,"y":-0.192},{"x":-0.024,"y":-0.192},{"x":0,"y":-0.192},{"x":0.024,"y":-0.192},{"x":0.048,"y":-0.192},{"x":0.072,"y":-0.192},{"x":0.096,"y":-0.192},{"x":0.12,"y":-0.192},{"x":0.144,"y":-0.192},{"x":0.168,"y":-0.192},{"x":0.192,"y":-0.192},{"x":0.216,"y":-0.192},{"x":0.24,"y":-0.192},{"x":0.264,"y":-0.192},{"x":0.288,"y":-0.192},{"x":0.312,"y":-0.192},{"x":0.336,"y":-0.192},{"x":0.36,"y":-0.192},{"x":0.384,"y":-0.192},{"x":0.408,"y":-0.192},{"x":0.432,"y":-0.192},{"x":0.456,"y":-0.192},{"x":0.48,"y":-0.192},
{"x":-0.48,"y":-0.216},{"x":-0.456,"y":-0.216},{"x":-0.432,"y":-0.216},{"x":-0.408,"y":-0.216},{"x":-0.384,"y":-0.216},{"x":-0.36,"y":-0.216},{"x":-0.336,"y":-0.216},{"x":-0.312,"y":-0.216},{"x":-0.288,"y":-0.216},{"x":-0.264,"y":-0.216},{"x":-0.24,"y":-0.216},{"x":-0.216,"y":-0.216},{"x":-0.192,"y":-0.216},{"x":-0.168,"y":-0.216},{"x":-0.144,"y":-0.216},{"x":-0.12,"y":-0.216},{"x":-0.096,"y":-0.216},{"x":-0.072,"y":-0.216},{"x":-0.048,"y":-0.216},{"x":-0.024,"y":-0.216},{"x":0,"y":-0.216},{"x":0.024,"y":-0.216},{"x":0.048,"y":-0.216},{"x":0.072,"y":-0.216},{"x":0.096,"y":-0.216},{"x":0.12,"y":-0.216},{"x":0.144,"y":-0.216},{"x":0.168,"y":-0.216},{"x":0.192,"y":-0.216},{"x":0.216,"y":-0.216},{"x":0.24,"y":-0.216},{"x":0.264,"y":-0.216},{"x":0.288,"y":-0.216},{"x":0.312,"y":-0.216},{"x":0.336,"y":-0.216},{"x":0.36,"y":-0.216},{"x":0.384,"y":-0.216},{"x":0.408,"y":-0.216},{"x":0.432,"y":-0.216},{"x":0.456,"y":-0.216},{"x":0.48,"y":-0.216},
{"x":-0.48,"y":-0.24},{"x":-0.456,"y":-0.24},{"x":-0.432,"y":-0.24},{"x":-0.408,"y":-0.24},{"x":-0.384,"y":-0.24},{"x":-0.36,"y":-0.24},{"x":-0.336,"y":-0.24},{"x":-0.312,"y":-0.24},{"x":-0.288,"y":-0.24},{"x":-0.264,"y":-0.24},{"x":-0.24,"y":-0.24},{"x":-0.216,"y":-0.24},{"x":-0.192,"y":-0.24},{"x":-0.168,"y":-0.24},{"x":-0.144,"y":-0.24},{"x":-0.12,"y":-0.24},{"x":-0.096,"y":-0.24},{"x":-0.072,"y":-0.24},{"x":-0.048,"y":-0.24},{"x":-0.024,"y":-0.24},{"x":0,"y":-0.24},{"x":0.024,"y":-0.24},{"x":0.048,"y":-0.24},{"x":0.072,"y":-0.24},{"x":0.096,"y":-0.24},{"x":0.12,"y":-0.24},{"x":0.144,"y":-0.24},{"x":0.168,"y":-0.24},{"x":0.192,"y":-0.24},{"x":0.216,"y":-0.24},{"x":0.24,"y":-0.24},{"x":0.264,"y":-0.24},{"x":0.288,"y":-0.24},{"x":0.312,"y":-0.24},{"x":0.336,"y":-0.24},{"x":0.36,"y":-0.24},{"x":0.384,"y":-0.24},{"x":0.408,"y":-0.24},{"x":0.432,"y":-0.24},{"x":0.456,"y":-0.24},{"x":0.48,"y":-0.24},
{"x":-0.48,"y":-0.264},{"x":-0.456,"y":-0.264},{"x":-0.432,"y":-0.264},{"x":-0.408,"y":-0.264},{"x":-0.384,"y":-0.264},{"x":-0.36,"y":-0.264},{"x":-0.336,"y":-0.264},{"x":-0.312,"y":-0.264},{"x":-0.288,"y":-0.264},{"x":-0.264,"y":-0.264},{"x":-0.24,"y":-0.264},{"x":-0.216,"y":-0.264},{"x":-0.192,"y":-0.264},{"x":-0.168,"y":-0.264},{"x":-0.144,"y":-0.264},{"x":-0.12,"y":-0.264},{"x":-0.096,"y":-0.264},{"x":-0.072,"y":-0.264},{"x":-0.048,"y":-0.264},{"x":-0.024,"y":-0.264},{"x":0,"y":-0.264},{"x":0.024,"y":-0.264},{"x":0.048,"y":-0.264},{"x":0.072,"y":-0.264},{"x":0.096,"y":-0.264},{"x":0.12,"y":-0.264},{"x":0.144,"y":-0.264},{"x":0.168,"y":-0.264},{"x":0.192,"y":-0.264},{"x":0.216,"y":-0.264},{"x":0.24,"y":-0.264},{"x":0.264,"y":-0.264},{"x":0.288,"y":-0.264},{"x":0.312,"y":-0.264},{"x":0.336,"y":-0.264},{"x":0.36,"y":-0.264},{"x":0.384,"y":-0.264},{"x":0.408,"y":-0.264},{"x":0.432,"y":-0.264},{"x":0.456,"y":-0.264},{"x":0.48,"y":-0.264},
{"x":-0.48,"y":-0.288},{"x":-0.456,"y":-0.288},{"x":-0.432,"y":-0.288},{"x":-0.408,"y":-0.288},{"x":-0.384,"y":-0.288},{"x":-0.36,"y":-0.288},{"x":-0.336,"y":-0.288},{"x":-0.312,"y":-0.288},{"x":-0.288,"y":-0.288},{"x":-0.264,"y":-0.288},{"x":-0.24,"y":-0.288},{"x":-0.216,"y":-0.288},{"x":-0.192,"y":-0.288},{"x":-0.168,"y":-0.288},{"x":-0.144,"y":-0.288},{"x":-0.12,"y":-0.288},{"x":-0.096,"y":-0.288},{"x":-0.072,"y":-0.288},{"x":-0.048,"y":-0.288},{"x":-0.024,"y":-0.288},{"x":0,"y":-0.288},{"x":0.024,"y":-0.288},{"x":0.048,"y":-0.288},{"x":0.072,"y":-0.288},{"x":0.096,"y":-0.288},{"x":0.12,"y":-0.288},{"x":0.144,"y":-0.288},{"x":0.168,"y":-0.288},{"x":0.192,"y":-0.288},{"x":0.216,"y":-0.288},{"x":0.24,"y":-0.288},{"x":0.264,"y":-0.288},{"x":0.288,"y":-0.288},{"x":0.312,"y":-0.288},{"x":0.336,"y":-0.288},{"x":0.36,"y":-0.288},{"x":0.384,"y":-0.288},{"x":0.408,"y":-0.288},{"x":0.432,"y":-0.288},{"x":0.456,"y":-0.288},{"x":0.48,"y":-0.288},
{"x":-0.48,"y":-0.312},{"x":-0.456,"y":-0.312},{"x":-0.432,"y":-0.312},{"x":-0.408,"y":-0.312},{"x":-0.384,"y":-0.312},{"x":-0.36,"y":-0.312},{"x":-0.336,"y":-0.312},{"x":-0.312,"y":-0.312},{"x":-0.288,"y":-0.312},{"x":-0.264,"y":-0.312},{"x":-0.24,"y":-0.312},{"x":-0.216,"y":-0.312},{"x":-0.192,"y":-0.312},{"x":-0.168,"y":-0.312},{"x":-0.144,"y":-0.312},{"x":-0.12,"y":-0.312},{"x":-0.096,"y":-0.312},{"x":-0.072,"y":-0.312},{"x":-0.048,"y":-0.312},{"x":-0.024,"y":-0.312},{"x":0,"y":-0.312},{"x":0.024,"y":-0.312},{"x":0.048,"y":-0.312},{"x":0.072,"y":-0.312},{"x":0.096,"y":-0.312},{"x":0.12,"y":-0.312},{"x":0.144,"y":-0.312},{"x":0.168,"y":-0.312},{"x":0.192,"y":-0.312},{"x":0.216,"y":-0.312},{"x":0.24,"y":-0.312},{"x":0.264,"y":-0.312},{"x":0.288,"y":-0.312},{"x":0.312,"y":-0.312},{"x":0.336,"y":-0.312},{"x":0.36,"y":-0.312},{"x":0.384,"y":-0.312},{"x":0.408,"y":-0.312},{"x":0.432,"y":-0.312},{"x":0.456,"y":-0.312},{"x":0.48,"y":-0.312},
{"x":-0.48,"y":-0.336},{"x":-0.456,"y":-0.336},{"x":-0.432,"y":-0.336},{"x":-0.408,"y":-0.336},{"x":-0.384,"y":-0.336},{"x":-0.36,"y":-0.336},{"x":-0.336,"y":-0.336},{"x":-0.312,"y":-0.336},{"x":-0.288,"y":-0.336},{"x":-0.264,"y":-0.336},{"x":-0.24,"y":-0.336},{"x":-0.216,"y":-0.336},{"x":-0.192,"y":-0.336},{"x":-0.168,"y":-0.336},{"x":-0.144,"y":-0.336},{"x":-0.12,"y":-0.336},{"x":-0.096,"y":-0.336},{"x":-0.072,"y":-0.336},{"x":-0.048,"y":-0.336},{"x":-0.024,"y":-0.336},{"x":0,"y":-0.336},{"x":0.024,"y":-0.336},{"x":0.048,"y":-0.336},{"x":0.072,"y":-0.336},{"x":0.096,"y":-0.336},{"x":0.12,"y":-0.336},{"x":0.144,"y":-0.336},{"x":0.168,"y":-0.336},{"x":0.192,"y":-0.336},{"x":0.216,"y":-0.336},{"x":0.24,"y":-0.336},{"x":0.264,"y":-0.336},{"x":0.288,"y":-0.336},{"x":0.312,"y":-0.336},{"x":0.336,"y":-0.336},{"x":0.36,"y":-0.336},{"x":0.384,"y":-0.336},{"x":0.408,"y":-0.336},{"x":0.432,"y":-0.336},{"x":0.456,"y":-0.336},{"x":0.48,"y":-0.336},
{"x":-0.48,"y":-0.36},{"x":-0.456,"y":-0.36},{"x":-0.432,"y":-0.36},{"x":-0.408,"y":-0.36},{"x":-0.384,"y":-0.36},{"x":-0.36,"y":-0.36},{"x":-0.336,"y":-0.36},{"x":-0.312,"y":-0.36},{"x":-0.288,"y":-0.36},{"x":-0.264,"y":-0.36},{"x":-0.24,"y":-0.36},{"x":-0.216,"y":-0.36},{"x":-0.192,"y":-0.36},{"x":-0.168,"y":-0.36},{"x":-0.144,"y":-0.36},{"x":-0.12,"y":-0.36},{"x":-0.096,"y":-0.36},{"x":-0.072,"y":-0.36},{"x":-0.048,"y":-0.36},{"x":-0.024,"y":-0.36},{"x":0,"y":-0.36},{"x":0.024,"y":-0.36},{"x":0.048,"y":-0.36},{"x":0.072,"y":-0.36},{"x":0.096,"y":-0.36},{"x":0.12,"y":-0.36},{"x":0.144,"y":-0.36},{"x":0.168,"y":-0.36},{"x":0.192,"y":-0.36},{"x":0.216,"y":-0.36},{"x":0.24,"y":-0.36},{"x":0.264,"y":-0.36},{"x":0.288,"y":-0.36},{"x":0.312,"y":-0.36},{"x":0.336,"y":-0.36},{"x":0.36,"y":-0.36},{"x":0.384,"y":-0.36},{"x":0.408,"y":-0.36},{"x":0.432,"y":-0.36},{"x":0.456,"y":-0.36},{"x":0.48,"y":-0.36},
{"x":-0.48,"y":-0.384},{"x":-0.456,"y":-0.384},{"x":-0.432,"y":-0.384},{"x":-0.408,"y":-0.384},{"x":-0.384,"y":-0.384},{"x":-0.36,"y":-0.384},{"x":-0.336,"y":-0.384},{"x":-0.312,"y":-0.384},{"x":-0.288,"y":-0.384},{"x":-0.264,"y":-0.384},{"x":-0.24,"y":-0.384},{"x":-0.216,"y":-0.384},{"x":-0.192,"y":-0.384},{"x":-0.168,"y":-0.384},{"x":-0.144,"y":-0.384},{"x":-0.12,"y":-0.384},{"x":-0.096,"y":-0.384},{"x":-0.072,"y":-0.384},{"x":-0.048,"y":-0.384},{"x":-0.024,"y":-0.384},{"x":0,"y":-0.384},{"x":0.024,"y":-0.384},{"x":0.048,"y":-0.384},{"x":0.072,"y":-0.384},{"x":0.096,"y":-0.384},{"x":0.12,"y":-0.384},{"x":0.144,"y":-0.384},{"x":0.168,"y":-0.384},{"x":0.192,"y":-0.384},{"x":0.216,"y":-0.384},{"x":0.24,"y":-0.384},{"x":0.264,"y":-0.384},{"x":0.288,"y":-0.384},{"x":0.312,"y":-0.384},{"x":0.336,"y":-0.384},{"x":0.36,"y":-0.384},{"x":0.384,"y":-0.384},{"x":0.408,"y":-0.384},{"x":0.432,"y":-0.384},{"x":0.456,"y":-0.384},{"x":0.48,"y":-0.384},
{"x":-0.48,"y":-0.408},{"x":-0.456,"y":-0.408},{"x":-0.432,"y":-0.408},{"x":-0.408,"y":-0.408},{"x":-0.384,"y":-0.408},{"x":-0.36,"y":-0.408},{"x":-0.336,"y":-0.408},{"x":-0.312,"y":-0.408},{"x":-0.288,"y":-0.408},{"x":-0.264,"y":-0.408},{"x":-0.24,"y":-0.408},{"x":-0.216,"y":-0.408},{"x":-0.192,"y":-0.408},{"x":-0.168,"y":-0.408},{"x":-0.144,"y":-0.408},{"x":-0.12,"y":-0.408},{"x":-0.096,"y":-0.408},{"x":-0.072,"y":-0.408},{"x":-0.048,"y":-0.408},{"x":-0.024,"y":-0.408},{"x":0,"y":-0.408},{"x":0.024,"y":-0.408},{"x":0.048,"y":-0.408},{"x":0.072,"y":-0.408},{"x":0.096,"y":-0.408},{"x":0.12,"y":-0.408},{"x":0.144,"y":-0.408},{"x":0.168,"y":-0.408},{"x":0.192,"y":-0.408},{"x":0.216,"y":-0.408},{"x":0.24,"y":-0.408},{"x":0.264,"y":-0.408},{"x":0.288,"y":-0.408},{"x":0.312,"y":-0.408},{"x":0.336,"y":-0.408},{"x":0.36,"y":-0.408},{"x":0.384,"y":-0.408},{"x":0.408,"y":-0.408},{"x":0.432,"y":-0.408},{"x":0.456,"y":-0.408},{"x":0.48,"y":-0.408},
{"x":-0.48,"y":-0.432},{"x":-0.456,"y":-0.432},{"x":-0.432,"y":-0.432},{"x":-0.408,"y":-0.432},{"x":-0.384,"y":-0.432},{"x":-0.36,"y":-0.432},{"x":-0.336,"y":-0.432},{"x":-0.312,"y":-0.432},{"x":-0.288,"y":-0.432},{"x":-0.264,"y":-0.432},{"x":-0.24,"y":-0.432},{"x":-0.216,"y":-0.432},{"x":-0.192,"y":-0.432},{"x":-0.168,"y":-0.432},{"x":-0.144,"y":-0.432},{"x":-0.12,"y":-0.432},{"x":-0.096,"y":-0.432},{"x":-0.072,"y":-0.432},{"x":-0.048,"y":-0.432},{"x":-0.024,"y":-0.432},{"x":0,"y":-0.432},{"x":0.024,"y":-0.432},{"x":0.048,"y":-0.432},{"x":0.072,"y":-0.432},{"x":0.096,"y":-0.432},{"x":0.12,"y":-0.432},{"x":0.144,"y":-0.432},{"x":0.168,"y":-0.432},{"x":0.192,"y":-0.432},{"x":0.216,"y":-0.432},{"x":0.24,"y":-0.432},{"x":0.264,"y":-0.432},{"x":0.288,"y":-0.432},{"x":0.312,"y":-0.432},{"x":0.336,"y":-0.432},{"x":0.36,"y":-0.432},{"x":0.384,"y":-0.432},{"x":0.408,"y":-0.432},{"x":0.432,"y":-0.432},{"x":0.456,"y":-0.432},{"x":0.48,"y":-0.432},
{"x":-0.48,"y":-0.456},{"x":-0.456,"y":-0.456},{"x":-0.432,"y":-0.456},{"x":-0.408,"y":-0.456},{"x":-0.384,"y":-0.456},{"x":-0.36,"y":-0.456},{"x":-0.336,"y":-0.456},{"x":-0.312,"y":-0.456},{"x":-0.288,"y":-0.456},{"x":-0.264,"y":-0.456},{"x":-0.24,"y":-0.456},{"x":-0.216,"y":-0.456},{"x":-0.192,"y":-0.456},{"x":-0.168,"y":-0.456},{"x":-0.144,"y":-0.456},{"x":-0.12,"y":-0.456},{"x":-0.096,"y":-0.456},{"x":-0.072,"y":-0.456},{"x":-0.048,"y":-0.456},{"x":-0.024,"y":-0.456},{"x":0,"y":-0.456},{"x":0.024,"y":-0.456},{"x":0.048,"y":-0.456},{"x":0.072,"y":-0.456},{"x":0.096,"y":-0.456},{"x":0.12,"y":-0.456},{"x":0.144,"y":-0.456},{"x":0.168,"y":-0.456},{"x":0.192,"y":-0.456},{"x":0.216,"y":-0.456},{"x":0.24,"y":-0.456},{"x":0.264,"y":-0.456},{"x":0.288,"y":-0.456},{"x":0.312,"y":-0.456},{"x":0.336,"y":-0.456},{"x":0.36,"y":-0.456},{"x":0.384,"y":-0.456},{"x":0.408,"y":-0.456},{"x":0.432,"y":-0.456},{"x":0.456,"y":-0.456},{"x":0.48,"y":-0.456},
{"x":-0.48,"y":-0.48},{"x":-0.456,"y":-0.48},{"x":-0.432,"y":-0.48},{"x":-0.408,"y":-0.48},{"x":-0.384,"y":-0.48},{"x":-0.36,"y":-0.48},{"x":-0.336,"y":-0.48},{"x":-0.312,"y":-0.48},{"x":-0.288,"y":-0.48},{"x":-0.264,"y":-0.48},{"x":-0.24,"y":-0.48},{"x":-0.216,"y":-0.48},{"x":-0.192,"y":-0.48},{"x":-0.168,"y":-0.48},{"x":-0.144,"y":-0.48},{"x":-0.12,"y":-0.48},{"x":-0.096,"y":-0.48},{"x":-0.072,"y":-0.48},{"x":-0.048,"y":-0.48},{"x":-0.024,"y":-0.48},{"x":0,"y":-0.48},{"x":0.024,"y":-0.48},{"x":0.048,"y":-0.48},{"x":0.072,"y":-0.48},{"x":0.096,"y":-0.48},{"x":0.12,"y":-0.48},{"x":0.144,"y":-0.48},{"x":0.168,"y":-0.48},{"x":0.192,"y":-0.48},{"x":0.216,"y":-0.48},{"x":0.24,"y":-0.48},{"x":0.264,"y":-0.48},{"x":0.288,"y":-0.48},{"x":0.312,"y":-0.48},{"x":0.336,"y":-0.48},{"x":0.36,"y":-0.48},{"x":0.384,"y":-0.48},{"x":0.408,"y":-0.48},{"x":0.432,"y":-0.48},{"x":0.456,"y":-0.48},{"x":0.48,"y":-0.48}
]},
"data": {"name": "pts"},
"layer": [
 {"transform": [{"filter": "!datum.k"}],
  "mark": {"type": "point", "shape": "square", "filled": true, "size": 2.6, "color": "#969696", "opacity": 1},
  "encoding": {
   "x": {"field": "x", "type": "quantitative", "scale": {"domain": [-0.5, 0.5], "nice": false, "zero": false},
    "axis": {"orient": "bottom", "values": [-0.5,-0.4,-0.3,-0.2,-0.1,0,0.1,0.2,0.3,0.4,0.5], "labelExpr": "datum.value == 0 ? '0' : format(datum.value, '.1f')", "labelFont": "Liberation Serif, DejaVu Serif, serif", "titleFont": "Liberation Serif, DejaVu Serif, serif", "labelPadding": 15, "labelFlush": false, "labelOverlap": false, "title": "𝑥 /mm", "titlePadding": 8}},
   "y": {"field": "y", "type": "quantitative", "scale": {"domain": [-0.5, 0.5], "nice": false, "zero": false},
    "axis": {"orient": "left", "values": [-0.5,-0.4,-0.3,-0.2,-0.1,0,0.1,0.2,0.3,0.4,0.5], "labelExpr": "datum.value == 0 ? '0' : format(datum.value, '.1f')", "labelFont": "Liberation Serif, DejaVu Serif, serif", "titleFont": "Liberation Serif, DejaVu Serif, serif", "labelPadding": 13, "labelFlush": false, "labelOverlap": false, "title": "𝑦 /mm", "titlePadding": 10}}
  }},
 {"transform": [{"filter": "datum.k == 'f'"}],
  "mark": {"type": "point", "shape": "square", "filled": true, "size": 2.2, "color": "#d6d6d6", "opacity": 1},
  "encoding": {
   "x": {"field": "x", "type": "quantitative", "axis": {"orient": "top", "values": [-0.5,-0.4,-0.3,-0.2,-0.1,0,0.1,0.2,0.3,0.4,0.5], "labels": false, "title": null}},
   "y": {"field": "y", "type": "quantitative", "axis": {"orient": "right", "values": [-0.5,-0.4,-0.3,-0.2,-0.1,0,0.1,0.2,0.3,0.4,0.5], "labels": false, "title": null}}
  }},
 {"transform": [{"filter": "datum.k == 'l' || datum.k == 'e' || datum.k == 'o'"}],
  "mark": {"type": "point", "filled": false, "strokeWidth": 1.1, "color": "#2b2b2b", "opacity": 1},
  "encoding": {
   "x": {"field": "x", "type": "quantitative", "axis": null},
   "y": {"field": "y", "type": "quantitative", "axis": null},
   "shape": {"field": "k", "type": "nominal", "legend": null, "scale": {"domain": ["l", "e", "o"], "range": ["M-1,0L1,0", "M-1,0A1,0.38,0,1,1,1,0A1,0.38,0,1,1,-1,0Z", "M-1,0A1,0.65,0,1,1,1,0A1,0.65,0,1,1,-1,0Z"]}},
   "angle": {"field": "a", "type": "quantitative", "scale": null},
   "size": {"field": "s", "type": "quantitative", "scale": null}
  }}
],
"resolve": {"axis": {"x": "independent", "y": "independent"}}
}
